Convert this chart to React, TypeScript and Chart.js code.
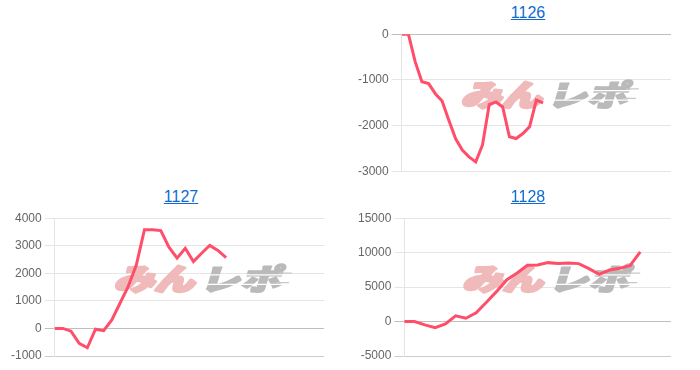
import React, { useEffect, useRef } from "react";
import { Chart, registerables } from "chart.js";

Chart.register(...registerables);

// ---- data ----
const titles = ["1126", "1127", "1128"];
const labels1126 = Array.from({ length: 41 }, (_, i) => String(i + 1));
const labels1127 = Array.from({ length: 34 }, (_, i) => String(i + 1));
const labels1128 = Array.from({ length: 27 }, (_, i) => String(i + 1));

const values1126 = [0, 0, -600, -1040, -1080, -1300, -1460, -1880, -2280, -2530, -2680, -2790, -2420, -1540, -1480, -1590, -2240, -2280, -2170, -2020, -1440, -1500];
const values1127 = [0, 0, -100, -540, -700, -30, -80, 310, 915, 1520, 2300, 3580, 3580, 3550, 2950, 2550, 2910, 2430, 2730, 3010, 2830, 2570];
const values1128 = [0, 0, -480, -875, -340, 830, 480, 1270, 2810, 4375, 6080, 7040, 8170, 8200, 8550, 8410, 8500, 8410, 7680, 6850, 7480, 7730, 8120, 10100];

const yMin = [-3000, -1000, -5000];
const yMax = [0, 4000, 15000];
const yStep = [1000, 1000, 5000];

const watermarkLeft = "みん";
const watermarkRight = "レポ";

const LINE = "rgb(255, 78, 106)";
const FONT = "'Liberation Sans', Arial, Helvetica, sans-serif";

const watermarkPlugin = {
  id: "watermark",
  beforeDatasetsDraw(chart: any) {
    const { ctx, chartArea } = chart;
    const cx = (chartArea.left + chartArea.right) / 2 + 10;
    const cy = (chartArea.top + chartArea.bottom) / 2 - 9;
    ctx.save();
    ctx.translate(cx, cy);
    ctx.transform(1, 0, -0.3, 1, 0, 0);
    ctx.scale(1.3, 0.95);
    ctx.font = "900 31px 'Noto Sans CJK JP', sans-serif";
    ctx.textBaseline = "middle";
    ctx.lineJoin = "round";
    ctx.textAlign = "right";
    ctx.lineWidth = 3;
    ctx.fillStyle = "rgb(240, 186, 186)";
    ctx.strokeStyle = "rgb(240, 186, 186)";
    ctx.strokeText(watermarkLeft, -1, 1);
    ctx.fillText(watermarkLeft, -1, 1);
    ctx.textAlign = "left";
    ctx.lineWidth = 2;
    ctx.fillStyle = "rgb(186, 186, 186)";
    ctx.strokeStyle = "rgb(186, 186, 186)";
    ctx.strokeText(watermarkRight, 3, 1);
    ctx.fillText(watermarkRight, 3, 1);
    // speed stripes
    ctx.fillStyle = "#fff";
    [-4, 6].forEach((dy) => ctx.fillRect(2, dy, 68, 1.2));
    ctx.fillStyle = "rgb(200, 200, 200)";
    [-6, 4].forEach((dy) => ctx.fillRect(60, dy, 10, 1.4));
    ctx.restore();
  },
};

type PanelProps = {
  title: string;
  labels: string[];
  values: number[];
  min: number;
  max: number;
  step: number;
  left: number;
  top: number;
  padTop: number;
  padBottom: number;
  darkBottom: boolean;
};

function Panel(p: PanelProps) {
  const ref = useRef<HTMLCanvasElement | null>(null);
  useEffect(() => {
    if (!ref.current) return;
    const chart = new Chart(ref.current, {
      type: "line",
      data: {
        labels: p.labels,
        datasets: [
          {
            data: p.values,
            borderColor: LINE,
            backgroundColor: LINE,
            borderWidth: 3,
            pointRadius: 0,
            pointHoverRadius: 0,
            fill: false,
            tension: 0,
          },
        ],
      },
      options: {
        animation: false,
        responsive: false,
        maintainAspectRatio: false,
        layout: { padding: { top: p.padTop, right: 30, bottom: p.padBottom, left: 0 } },
        plugins: { legend: { display: false }, tooltip: { enabled: false }, title: { display: false } },
        scales: {
          x: { display: false },
          y: {
            min: p.min,
            max: p.max,
            ticks: {
              stepSize: p.step,
              color: "#666",
              padding: 3,
              font: { family: FONT, size: 12 },
              callback: (v: any) => String(v),
            },
            grid: {
              tickLength: 10,
              color: (c: any) => {
                if (!c.tick) return "rgba(0,0,0,0.1)";
                if (c.tick.value === 0) return "rgba(0,0,0,0.25)";
                if (p.darkBottom && c.tick.value === p.min) return "rgba(0,0,0,0.2)";
                return "rgba(0,0,0,0.1)";
              },
            },
            border: { display: true, color: "rgba(0,0,0,0.1)" },
          },
        },
      },
      plugins: [watermarkPlugin],
    });
    return () => chart.destroy();
  }, []);
  return (
    <div style={{ position: "absolute", left: p.left, top: p.top, width: 346, height: 186 }}>
      <div
        style={{
          position: "absolute",
          left: 0,
          top: 4,
          width: 346,
          textAlign: "center",
          lineHeight: "18px",
          fontFamily: FONT,
          fontSize: 16,
        }}
      >
        <a href="#" style={{ color: "#0f6bd0", textDecoration: "underline" }}>
          {p.title}
        </a>
      </div>
      <canvas
        ref={ref}
        width={346}
        height={162}
        style={{ position: "absolute", left: 0, top: 24, width: 346, height: 162 }}
      />
    </div>
  );
}

export default function App() {
  return (
    <div
      style={{
        position: "fixed",
        left: 0,
        top: 0,
        width: 700,
        height: 370,
        overflow: "hidden",
        background: "#fff",
      }}
    >
      <Panel title={titles[0]} labels={labels1126} values={values1126} min={yMin[0]} max={yMax[0]} step={yStep[0]} left={355} top={0} padTop={10} padBottom={14.5} darkBottom={false} />
      <Panel title={titles[1]} labels={labels1127} values={values1127} min={yMin[1]} max={yMax[1]} step={yStep[1]} left={8} top={184} padTop={10} padBottom={14} darkBottom={true} />
      <Panel title={titles[2]} labels={labels1128} values={values1128} min={yMin[2]} max={yMax[2]} step={yStep[2]} left={355} top={184} padTop={10} padBottom={14} darkBottom={true} />
    </div>
  );
}
